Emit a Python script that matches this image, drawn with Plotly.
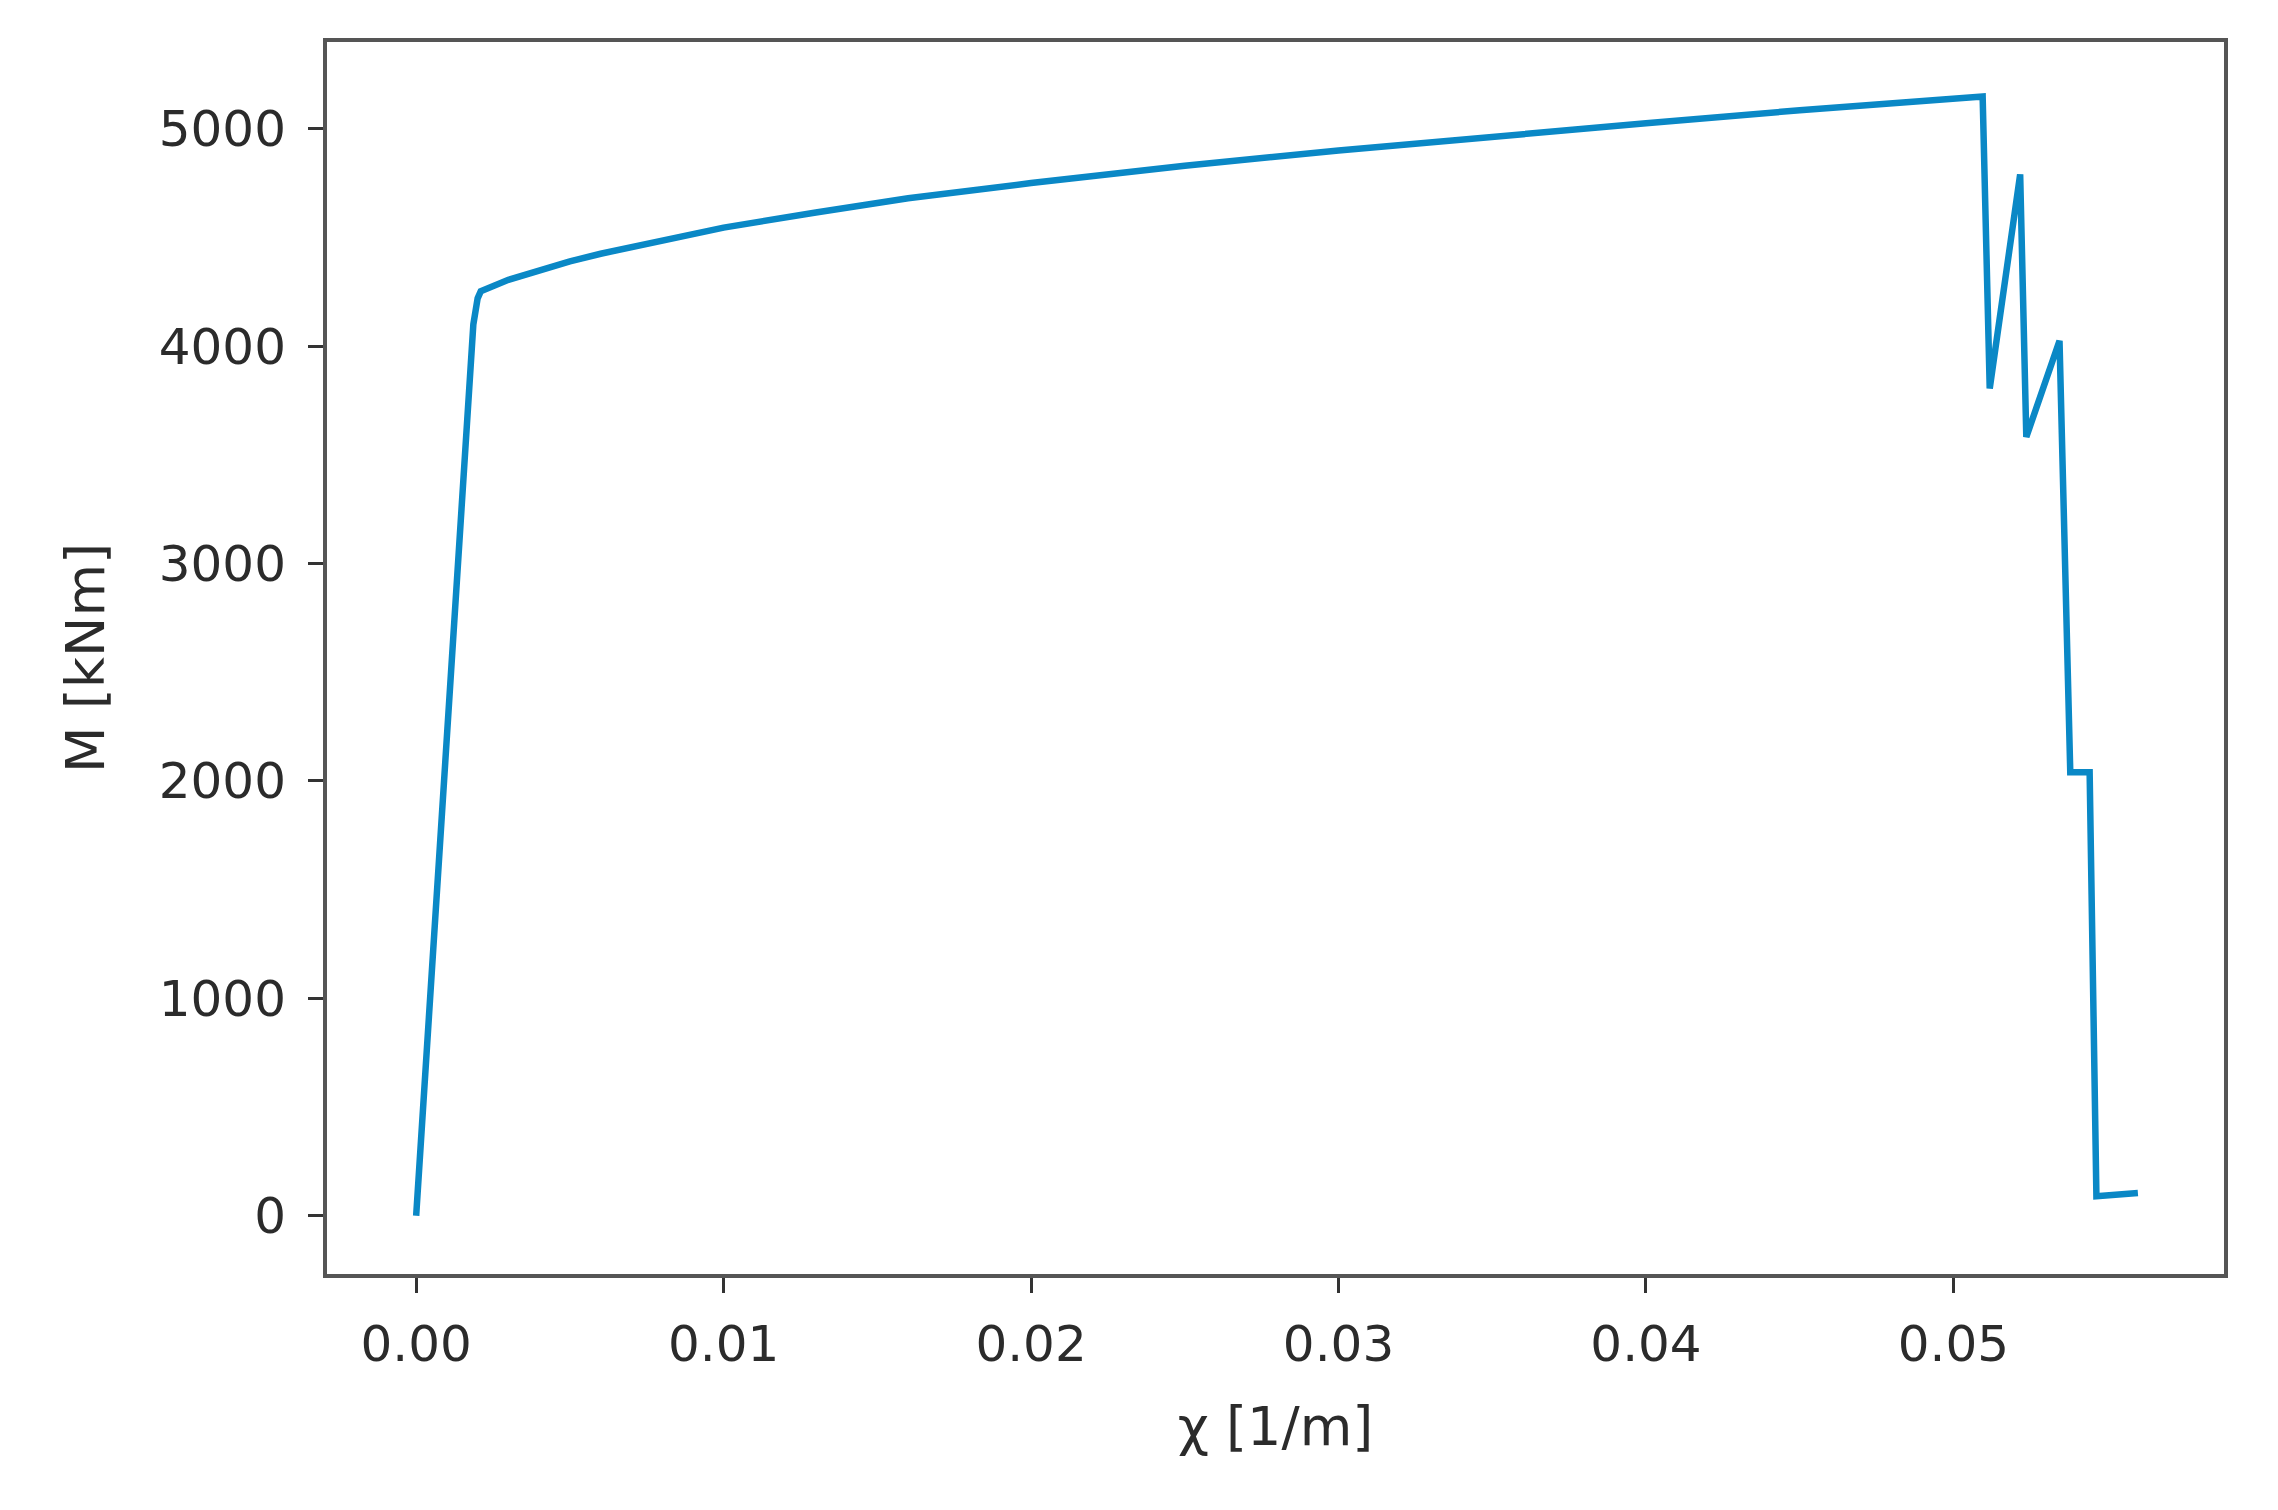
import plotly.graph_objects as go

# moment-curvature data
chi = [0.0, 0.00186, 0.00200, 0.00210, 0.0030, 0.0040, 0.0050, 0.0060,
       0.0080, 0.0100, 0.0130, 0.0160, 0.0200, 0.0250, 0.0300, 0.0350,
       0.0400, 0.0450, 0.05095,
       0.05118, 0.05217, 0.05237, 0.05345, 0.0538, 0.05443, 0.05465, 0.0560]
moment = [0, 4100, 4220, 4252, 4305, 4350, 4390, 4425,
          4485, 4545, 4615, 4680, 4750, 4830, 4900, 4965,
          5025, 5085, 5148,
          3805, 4790, 3582, 4025, 2040, 2040, 90, 105]

x_ticks = [0.0, 0.01, 0.02, 0.03, 0.04, 0.05]
y_ticks = [0, 1000, 2000, 3000, 4000, 5000]

text_color = "#2b2b2b"

fig = go.Figure()
fig.add_trace(go.Scatter(x=chi, y=moment, mode="lines",
                         line=dict(color="#0a88c6", width=6.5)))

axis_common = dict(
    showgrid=False, zeroline=False,
    showline=True, linecolor="#555555", linewidth=4, mirror=True,
    ticks="outside", ticklen=15, tickwidth=3, tickcolor="#333333",
    tickfont=dict(family="DejaVu Sans", size=50, color=text_color),
)

fig.update_layout(
    width=2278, height=1510,
    margin=dict(l=319, r=62, t=34, b=244),
    plot_bgcolor="white", paper_bgcolor="white",
    showlegend=False,
    xaxis=dict(axis_common, range=[-0.0029, 0.0588], tickvals=x_ticks,
               tickformat=".2f", ticklabelstandoff=8,
               title=dict(text="χ [1/m]", standoff=36,
                          font=dict(family="DejaVu Sans", size=54, color=text_color))),
    yaxis=dict(axis_common, range=[-268, 5399], tickvals=y_ticks,
               tickformat="d", ticklabelstandoff=12,
               title=dict(text="M [kNm]", standoff=38,
                          font=dict(family="DejaVu Sans", size=54, color=text_color))),
)

fig.write_html("out.html")
